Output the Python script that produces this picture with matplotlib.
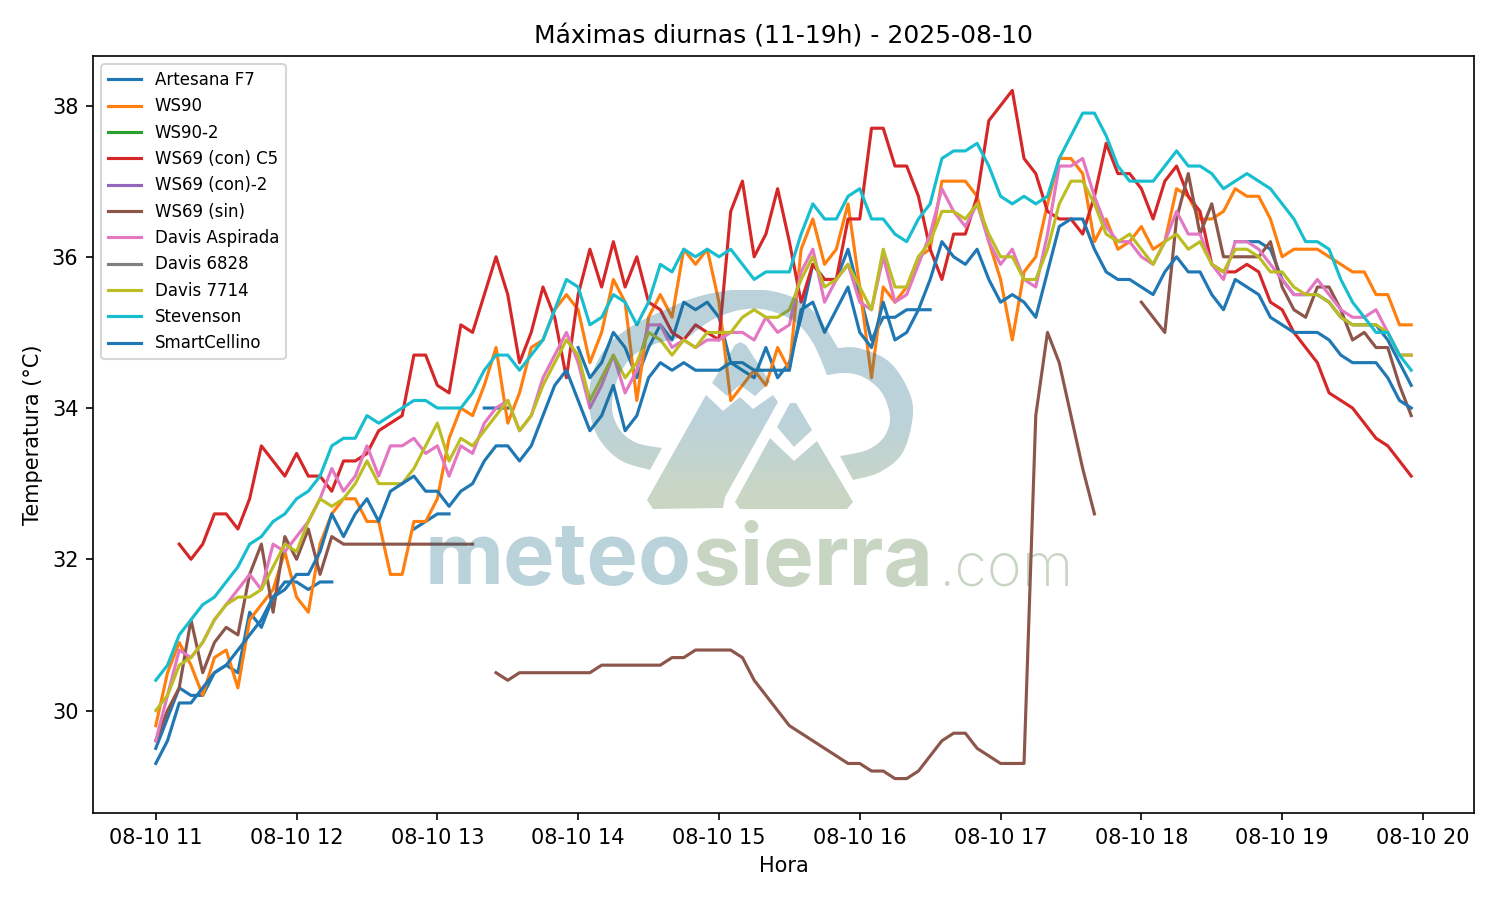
import numpy as np
import pandas as pd
import matplotlib
matplotlib.use("Agg")
import matplotlib.pyplot as plt
import matplotlib.dates as mdates
from matplotlib.path import Path
from matplotlib.patches import PathPatch

_ = float("nan")

hora = pd.date_range("2025-08-10 11:00", periods=108, freq="5min")

artesana = [29.5,29.9,30.3,30.2,30.2,30.5,30.6,30.5,31.3,31.1,
            31.5,31.7,31.7,31.6,31.7,31.7,_,_,_,_,
            _,_,32.4,32.5,32.6,32.6,_,_,34.0,34.0,
            34.0,_,_,_,_,_,34.8,34.4,34.6,35.0,
            34.8,34.4,34.8,35.1,34.9,35.4,35.3,35.4,35.2,34.6,
            34.5,34.4,34.8,34.4,34.6,35.2,35.9,35.7,35.7,36.1,
            35.5,34.9,35.2,35.2,35.3,35.3,35.3,_,_,_,
            _,_,_,_,_,_,_,_,_,_,
            _,_,_,_,_,_,_,_,_,_,
            _,_,36.2,36.2,36.2,36.1,35.7,35.5,35.5,35.5,
            35.4,35.2,35.1,35.1,35.1,34.9,34.6,34.3]
ws90 = [29.8,30.5,30.9,30.6,30.2,30.7,30.8,30.3,31.2,31.4,
        31.6,32.1,31.5,31.3,32.2,32.6,32.8,32.8,32.5,32.5,
        31.8,31.8,32.5,32.5,32.8,33.6,34.0,33.9,34.3,34.8,
        33.8,34.2,34.8,34.9,35.3,35.5,35.3,34.6,35.0,35.7,
        35.4,34.1,35.2,35.5,35.2,36.1,35.9,36.1,35.4,34.1,
        34.3,34.5,34.3,34.8,34.5,36.1,36.5,35.9,36.1,36.7,
        35.6,34.4,35.6,35.4,35.6,36.0,36.1,37.0,37.0,37.0,
        36.8,36.2,35.7,34.9,35.8,36.0,36.7,37.3,37.3,37.1,
        36.2,36.5,36.1,36.2,36.4,36.1,36.2,36.9,36.8,36.5,
        36.5,36.6,36.9,36.8,36.8,36.5,36.0,36.1,36.1,36.1,
        36.0,35.9,35.8,35.8,35.5,35.5,35.1,35.1]
ws90_2 = []
ws69_c5 = [_,_,32.2,32.0,32.2,32.6,32.6,32.4,32.8,33.5,
           33.3,33.1,33.4,33.1,33.1,32.9,33.3,33.3,33.4,33.7,
           33.8,33.9,34.7,34.7,34.3,34.2,35.1,35.0,35.5,36.0,
           35.5,34.6,35.0,35.6,35.2,34.4,35.5,36.1,35.6,36.2,
           35.6,36.0,35.4,35.3,35.0,34.9,35.1,35.0,34.9,36.6,
           37.0,36.0,36.3,36.9,36.2,35.4,35.9,35.7,35.7,36.5,
           36.5,37.7,37.7,37.2,37.2,36.8,36.1,35.7,36.3,36.3,
           36.8,37.8,38.0,38.2,37.3,37.1,36.6,36.5,36.5,36.3,
           36.8,37.5,37.1,37.1,36.9,36.5,37.0,37.2,36.8,36.6,
           35.9,35.8,35.8,35.9,35.8,35.4,35.3,35.0,34.8,34.6,
           34.2,34.1,34.0,33.8,33.6,33.5,33.3,33.1]
ws69_2 = []
ws69_sin = [29.6,30.0,30.3,31.2,30.5,30.9,31.1,31.0,31.8,32.2,
            31.3,32.3,32.0,32.4,31.8,32.3,32.2,32.2,32.2,32.2,
            32.2,32.2,32.2,32.2,32.2,32.2,32.2,32.2,_,30.5,
            30.4,30.5,30.5,30.5,30.5,30.5,30.5,30.5,30.6,30.6,
            30.6,30.6,30.6,30.6,30.7,30.7,30.8,30.8,30.8,30.8,
            30.7,30.4,30.2,30.0,29.8,29.7,29.6,29.5,29.4,29.3,
            29.3,29.2,29.2,29.1,29.1,29.2,29.4,29.6,29.7,29.7,
            29.5,29.4,29.3,29.3,29.3,33.9,35.0,34.6,33.9,33.2,
            32.6,_,_,_,35.4,35.2,35.0,36.5,37.1,36.3,
            36.7,36.0,36.0,36.0,36.0,36.2,35.6,35.3,35.2,35.6,
            35.6,35.3,34.9,35.0,34.8,34.8,34.3,33.9]
davis_asp = [29.6,30.2,30.8,30.7,30.9,31.2,31.4,31.6,31.8,31.6,
             32.2,32.1,32.3,32.5,32.8,33.2,32.9,33.1,33.5,33.1,
             33.5,33.5,33.6,33.4,33.5,33.1,33.5,33.4,33.8,34.0,
             34.1,33.7,33.9,34.4,34.7,35.0,34.6,34.0,34.3,34.7,
             34.2,34.5,35.1,35.1,34.8,34.9,34.8,34.9,34.9,35.0,
             35.0,34.9,35.2,35.0,35.1,35.8,36.1,35.4,35.7,35.9,
             35.4,35.3,36.0,35.4,35.5,35.9,36.3,36.9,36.6,36.4,
             36.7,36.2,35.9,36.1,35.7,35.6,36.3,37.2,37.2,37.3,
             36.8,36.4,36.2,36.2,36.0,35.9,36.2,36.6,36.3,36.3,
             35.9,35.7,36.2,36.2,36.1,35.9,35.7,35.5,35.5,35.7,
             35.5,35.3,35.2,35.2,35.3,35.0,34.7,34.7]
davis_6828 = []
davis_7714 = [30.0,30.2,30.6,30.7,30.9,31.2,31.4,31.5,31.5,31.6,
              31.9,32.2,32.1,32.5,32.8,32.7,32.8,33.0,33.3,33.0,
              33.0,33.0,33.2,33.5,33.8,33.3,33.6,33.5,33.7,33.9,
              34.1,33.7,33.9,34.3,34.6,34.9,34.7,34.1,34.4,34.7,
              34.4,34.6,35.0,34.9,34.7,34.9,34.8,35.0,35.0,35.0,
              35.2,35.3,35.2,35.2,35.3,35.7,36.0,35.6,35.7,35.9,
              35.6,35.3,36.1,35.6,35.6,36.0,36.2,36.6,36.6,36.5,
              36.7,36.3,36.0,36.0,35.7,35.7,36.1,36.7,37.0,37.0,
              36.7,36.3,36.2,36.3,36.1,35.9,36.2,36.3,36.1,36.2,
              35.9,35.8,36.1,36.1,36.0,35.8,35.8,35.6,35.5,35.5,
              35.4,35.2,35.1,35.1,35.1,35.0,34.7,34.7]
stevenson = [30.4,30.6,31.0,31.2,31.4,31.5,31.7,31.9,32.2,32.3,
             32.5,32.6,32.8,32.9,33.1,33.5,33.6,33.6,33.9,33.8,
             33.9,34.0,34.1,34.1,34.0,34.0,34.0,34.2,34.5,34.7,
             34.7,34.5,34.7,34.9,35.3,35.7,35.6,35.1,35.2,35.5,
             35.4,35.1,35.4,35.9,35.8,36.1,36.0,36.1,36.0,36.1,
             35.9,35.7,35.8,35.8,35.8,36.3,36.7,36.5,36.5,36.8,
             36.9,36.5,36.5,36.3,36.2,36.5,36.7,37.3,37.4,37.4,
             37.5,37.2,36.8,36.7,36.8,36.7,36.8,37.3,37.6,37.9,
             37.9,37.6,37.2,37.0,37.0,37.0,37.2,37.4,37.2,37.2,
             37.1,36.9,37.0,37.1,37.0,36.9,36.7,36.5,36.2,36.2,
             36.1,35.7,35.4,35.2,35.0,35.0,34.7,34.5]
smartcellino = [29.3,29.6,30.1,30.1,30.3,30.5,30.6,30.8,31.0,31.2,
                31.5,31.6,31.8,31.8,32.1,32.6,32.3,32.6,32.8,32.5,
                32.9,33.0,33.1,32.9,32.9,32.7,32.9,33.0,33.3,33.5,
                33.5,33.3,33.5,33.9,34.3,34.5,34.1,33.7,33.9,34.3,
                33.7,33.9,34.4,34.6,34.5,34.6,34.5,34.5,34.5,34.6,
                34.6,34.5,34.5,34.5,34.5,35.3,35.4,35.0,35.3,35.6,
                35.0,34.8,35.4,34.9,35.0,35.3,35.7,36.2,36.0,35.9,
                36.1,35.7,35.4,35.5,35.4,35.2,35.8,36.4,36.5,36.5,
                36.1,35.8,35.7,35.7,35.6,35.5,35.8,36.0,35.8,35.8,
                35.5,35.3,35.7,35.6,35.5,35.2,35.1,35.0,35.0,35.0,
                34.9,34.7,34.6,34.6,34.6,34.4,34.1,34.0]

nombres = ["Artesana F7","WS90","WS90-2","WS69 (con) C5","WS69 (con)-2","WS69 (sin)",
           "Davis Aspirada","Davis 6828","Davis 7714","Stevenson","SmartCellino"]
series = [artesana,ws90,ws90_2,ws69_c5,ws69_2,ws69_sin,davis_asp,davis_6828,davis_7714,stevenson,smartcellino]

fig = plt.figure(figsize=(10,6), dpi=150)
ax = fig.add_axes([93/1500, 1-813/900, (1474-93)/1500, (813-56)/900])
for nombre, valores in zip(nombres, series):
    if valores:
        ax.plot(hora, valores, label=nombre, linewidth=1.5)
    else:
        ax.plot([], [], label=nombre, linewidth=1.5)
ax.xaxis.set_major_locator(mdates.HourLocator())
ax.xaxis.set_major_formatter(mdates.DateFormatter("%m-%d %H"))
ax.set_title("Máximas diurnas (11-19h) - 2025-08-10", fontsize=12)
ax.set_xlabel("Hora")
ax.set_ylabel("Temperatura (°C)")
ax.legend(loc="upper left", fontsize=8)

# Marca de agua
ov = fig.add_axes([0,0,1,1], zorder=5)
ov.set_xlim(0,1500); ov.set_ylim(900,0); ov.axis("off"); ov.patch.set_alpha(0)

def smooth(pts, n=12):
    p = np.array(pts, float)
    out = []
    m = len(p)
    for i in range(m-1):
        p0,p1,p2,p3 = p[max(i-1,0)],p[i],p[i+1],p[min(i+2,m-1)]
        for t in np.linspace(0,1,n,endpoint=False):
            out.append(0.5*((2*p1)+(-p0+p2)*t+(2*p0-5*p1+4*p2-p3)*t**2+(-p0+3*p1-3*p2+p3)*t**3))
    out.append(p[-1])
    return np.array(out)

outer = smooth([(650,470),(620,460),(598,437),(589,405),(593,372),(608,345),(632,326),(660,312),(700,296),(747,289),(787,295),(815,313),(838,348)]).tolist() + \
        smooth([(838,348),(858,348),(887,360),(906,385),(913,413),(903,452),(880,472),(853,480)]).tolist()
inner = smooth([(840,456),(867,450),(884,437),(890,417),(882,393),(865,378),(847,373),(827,375)]).tolist() + \
        smooth([(827,375),(813,343),(795,322),(767,310),(740,310),(712,320),(690,336)]).tolist() + \
        smooth([(690,336),(655,344),(632,357),(617,380),(612,408),(620,430),(637,443),(662,448)]).tolist()
cloud = outer + inner
snow = [(740,342),(735,345),(712,383),(727,396),(740,385),(755,396),(770,382),(746,345)]
big = [(706,395),(723,411),(740,397),(753,409),(773,395),(778,402),(725,497),(723,508),(653,509),(647,500)]
diamond = [(790,403),(796,403),(812,430),(794,447),(777,427)]
small = [(770,438),(794,461),(817,441),(853,502),(847,509),(740,509),(735,502)]

verts, codes = [], []
for poly in (cloud, snow, big, diamond, small):
    verts += list(poly) + [poly[0]]
    codes += [Path.MOVETO] + [Path.LINETO]*(len(poly)-1) + [Path.CLOSEPOLY]
clip = PathPatch(Path(verts, codes), transform=ov.transData, fc="none", ec="none")
ov.add_patch(clip)
azul = np.array([27,106,133])/255
verde = np.array([75,118,58])/255
f = np.clip((np.linspace(0,1,220)-0.59)/0.33, 0, 1)[:,None]
grad = (azul*(1-f)+verde*f)[:,None,:]
im = ov.imshow(grad, extent=(580,920,510,290), aspect="auto", alpha=0.3, zorder=6)
im.set_clip_path(clip)
ov.set_xlim(0,1500); ov.set_ylim(900,0)

fam = ["Inter","DejaVu Sans"]
ov.text(425,585,"meteo",color=azul,alpha=0.3,fontsize=41.6,fontweight="bold",family=fam,ha="left",va="baseline",zorder=6)
ov.text(693,585,"sierra",color=verde,alpha=0.3,fontsize=41,fontweight="bold",family=fam,ha="left",va="baseline",zorder=6)
ov.text(938,585,".com",color=verde,alpha=0.3,fontsize=28.5,fontweight="light",family=fam,ha="left",va="baseline",zorder=6)

fig.savefig("out.png", dpi=150)
